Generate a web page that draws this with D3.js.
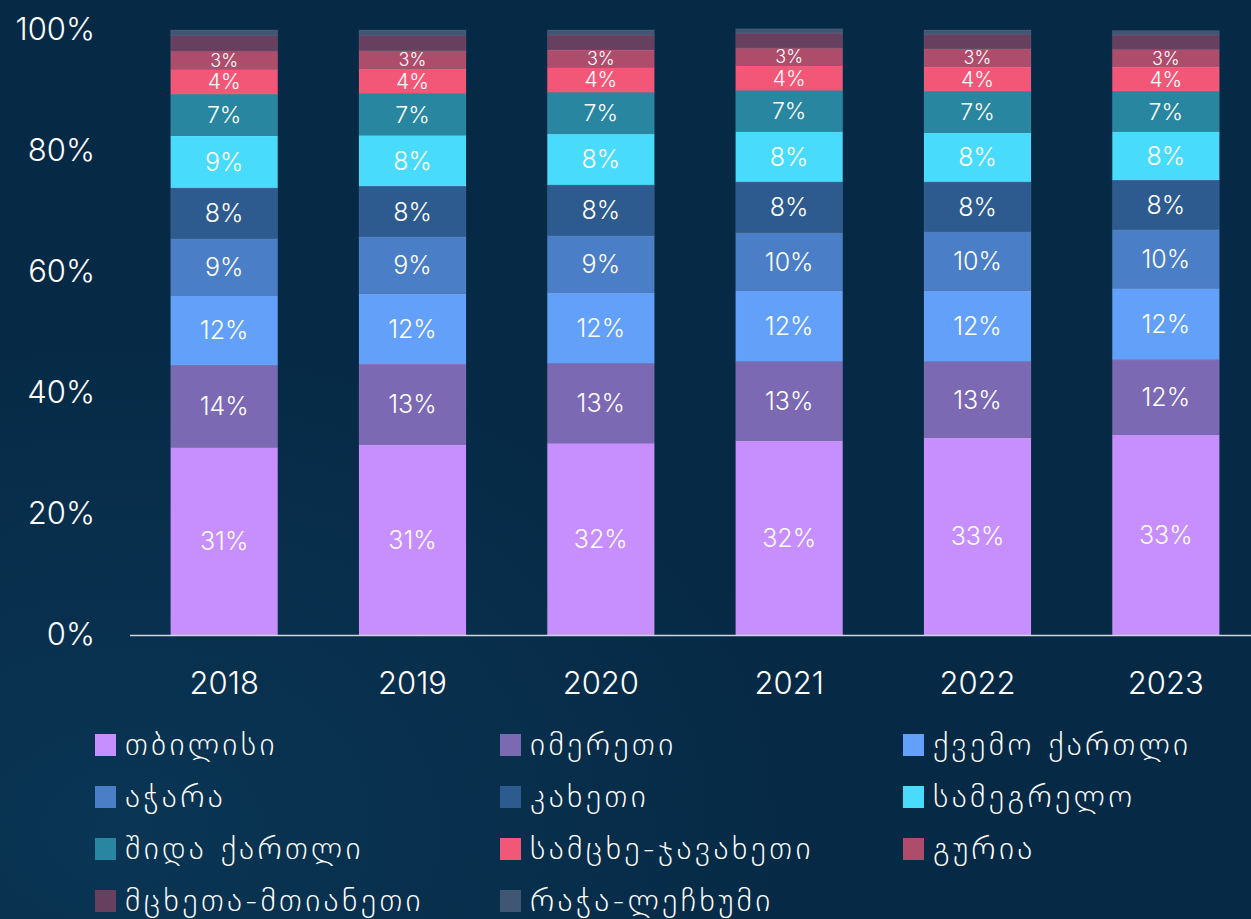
<!DOCTYPE html>
<html>
<head>
<meta charset="utf-8">
<script src="https://cdn.jsdelivr.net/npm/d3@7"></script>
<style>
	html, body { margin: 0; padding: 0; background: #062a46; }
	svg { display: block; }
</style>
</head>
<body>
<svg id="chart" width="1251" height="919"></svg>
<script>
// Regional shares per year, stacked bars.

//// DATA ///////////////////////////////////////////////////////////////////////

var years = ["2018", "2019", "2020", "2021", "2022", "2023"];

var regions = [
	"თბილისი", "იმერეთი", "ქვემო ქართლი", "აჭარა", "კახეთი", "სამეგრელო",
	"შიდა ქართლი", "სამცხე-ჯავახეთი", "გურია", "მცხეთა-მთიანეთი", "რაჭა-ლეჩხუმი"
];

var colors = [
	"#c78efd", "#7b69b4", "#63a0f9", "#4a7ec6", "#2d5b8f", "#48dbfb",
	"#2886a1", "#f35777", "#ae4c6b", "#673f5f", "#3f5674"
];

// one array per region, values per year (%)
var tbilisi     = [31.0, 31.4, 31.7, 32.1, 32.6, 33.1];
var imereti     = [13.6, 13.4, 13.2, 13.1, 12.6, 12.4];
var kvemo       = [11.5, 11.6, 11.7, 11.7, 11.7, 11.8];
var ajara       = [ 9.4,  9.4,  9.4,  9.6,  9.7,  9.7];
var kakheti     = [ 8.4,  8.4,  8.4,  8.4,  8.3,  8.2];
var samegrelo   = [ 8.6,  8.4,  8.4,  8.3,  8.1,  8.0];
var shida       = [ 6.9,  6.9,  6.9,  6.8,  6.9,  6.7];
var samtskhe    = [ 4.1,  4.1,  4.1,  4.1,  4.0,  4.0];
var guria       = [ 3.0,  3.0,  2.9,  2.9,  3.0,  2.9];
var mtskheta    = [ 2.6,  2.5,  2.5,  2.5,  2.4,  2.4];
var racha       = [ 0.9,  0.9,  0.8,  0.7,  0.7,  0.7];

var series = [tbilisi, imereti, kvemo, ajara, kakheti, samegrelo,
	shida, samtskhe, guria, mtskheta, racha];

var yTicks = [0, 20, 40, 60, 80, 100];


//// SETTINGS ///////////////////////////////////////////////////////////////////

var numFont = "Inter, 'DejaVu Sans', sans-serif";
var geoFont = "'DejaVu Sans', sans-serif";

var yBottom = 635;
var yTop = 30;

var svg = d3.select("#chart");

var table = years.map(function(y, i) {
	var row = { year: y };
	regions.forEach(function(r, k) { row[r] = series[k][i]; });
	return row;
});

var stack = d3.stack().keys(regions);
var layers = stack(table);

var x = d3.scaleBand()
	.domain(years)
	.range([130, 1260])
	.paddingInner(0.432)
	.paddingOuter(0.216);

var y = d3.scaleLinear()
	.domain([0, 100])
	.range([yBottom, yTop]);


//// BACKGROUND /////////////////////////////////////////////////////////////////

var defs = svg.append("defs");
var glow = defs.append("radialGradient")
	.attr("id", "glow")
	.attr("cx", "10%").attr("cy", "90%").attr("r", "55%");
glow.append("stop").attr("offset", "0%").attr("stop-color", "#0a3554");
glow.append("stop").attr("offset", "100%").attr("stop-color", "#062a46");

svg.append("rect")
	.attr("width", 1251)
	.attr("height", 919)
	.attr("fill", "url(#glow)");


//// BARS ///////////////////////////////////////////////////////////////////////

var layer = svg.append("g").selectAll("g")
	.data(layers)
	.join("g")
		.attr("fill", function(d, i) { return colors[i]; });

layer.selectAll("rect")
	.data(function(d) { return d; })
	.join("rect")
		.attr("x", function(d) { return x(d.data.year); })
		.attr("y", function(d) { return y(d[1]); })
		.attr("width", x.bandwidth())
		.attr("height", function(d) { return y(d[0]) - y(d[1]); })
		.attr("stroke", "rgba(255,255,255,0.08)")
		.attr("stroke-width", 1);

function labelSize(h) {
	if (h < 21) return 18;
	if (h < 30) return 21;
	if (h < 45) return 23;
	return 25;
}

layer.selectAll("text")
	.data(function(d) { return d.filter(function(p) { return p[1] - p[0] >= 2.85; }); })
	.join("text")
		.attr("x", function(d) { return x(d.data.year) + x.bandwidth() / 2; })
		.attr("y", function(d) { return (y(d[0]) + y(d[1])) / 2; })
		.attr("dy", "0.36em")
		.attr("text-anchor", "middle")
		.attr("fill", "#ffffff")
		.style("font-family", numFont)
		.style("font-weight", 300)
		.style("font-size", function(d) { return labelSize(y(d[0]) - y(d[1])) + "px"; })
		.text(function(d) { return Math.round(d[1] - d[0]) + "%"; });


//// AXES ///////////////////////////////////////////////////////////////////////

svg.append("line")
	.attr("x1", 130).attr("x2", 1251)
	.attr("y1", yBottom + 0.5).attr("y2", yBottom + 0.5)
	.attr("stroke", "#d0d6dc")
	.attr("stroke-width", 1.5);

var yAxis = svg.append("g")
	.attr("transform", "translate(95,0)")
	.call(d3.axisLeft(y).tickValues(yTicks).tickSize(0).tickPadding(0)
		.tickFormat(function(d) { return d + "%"; }));
yAxis.select(".domain").remove();
yAxis.selectAll("text")
	.attr("fill", "#ffffff")
	.attr("dy", "0.3em")
	.style("font-family", numFont)
	.style("font-weight", 300)
	.style("font-size", "31px");

var xAxis = svg.append("g")
	.attr("transform", "translate(0," + yBottom + ")")
	.call(d3.axisBottom(x).tickSize(0).tickPadding(37));
xAxis.select(".domain").remove();
xAxis.selectAll("text")
	.attr("fill", "#ffffff")
	.style("font-family", numFont)
	.style("font-weight", 300)
	.style("font-size", "31px");


//// LEGEND /////////////////////////////////////////////////////////////////////

var legendX = [95, 500, 903];
var legendY0 = 745;
var legendStep = 52;

var legend = svg.append("g").selectAll("g")
	.data(regions)
	.join("g")
		.attr("transform", function(d, i) {
			return "translate(" + legendX[i % 3] + "," + (legendY0 + Math.floor(i / 3) * legendStep) + ")";
		});

legend.append("rect")
	.attr("x", 0).attr("y", -11)
	.attr("width", 21).attr("height", 22)
	.attr("fill", function(d, i) { return colors[i]; });

legend.append("text")
	.attr("x", 30)
	.attr("dy", "0.3em")
	.attr("fill", "#ffffff")
	.style("font-family", geoFont)
	.style("font-weight", 200)
	.style("font-size", "32px")
	.style("letter-spacing", "3.4px")
	.text(function(d) { return d; });
</script>
</body>
</html>
